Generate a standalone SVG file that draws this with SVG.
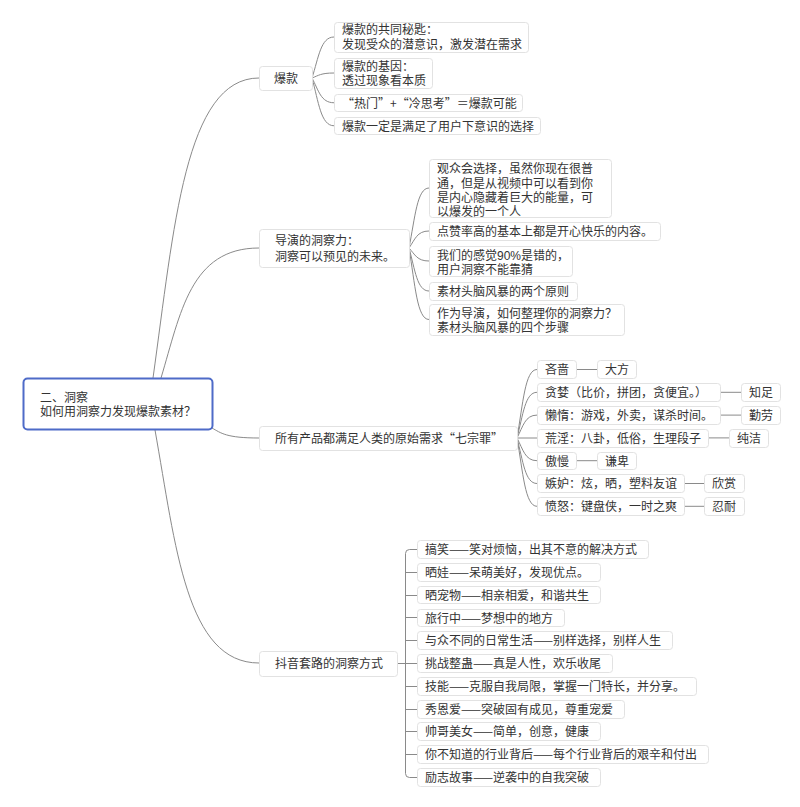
<svg xmlns="http://www.w3.org/2000/svg" width="800" height="807" viewBox="0 0 800 807">
<style>
.n rect{fill:#fff;stroke:#e2e2e2;stroke-width:1}
#root rect{fill:#fff;stroke:#4e6bc8;stroke-width:2}
text{font-family:"Noto Sans CJK SC","Noto Sans",sans-serif;font-size:12px;fill:#333}
text.ml{font-family:"Liberation Sans","Noto Sans CJK SC",sans-serif}
.c path{fill:none;stroke:#8a8a8a;stroke-width:1}
</style>
<rect width="800" height="807" fill="#fff"/>
<g class="c" id="connectors">
<path d="M153 378 C174 228 185 78 259 78"/>
<path d="M161 378 C180.6 313 190.4 248 259 248"/>
<path d="M212 428 C221 433 226 438 259 438"/>
<path d="M155 430 C175.8 546.5 186.2 663 259 663"/>
<path d="M312 78 C318.6 57.5 320.8 37 334 37"/>
<path d="M312 78 C318.6 75.5 320.8 73 334 73"/>
<path d="M312 78 C318.6 90.25 320.8 102.75 334 102.75"/>
<path d="M312 78 C318.6 101.75 320.8 125.75 334 125.75"/>
<path d="M409 248 C415 218 417 188 429 188"/>
<path d="M409 248 C415 239.5 417 231 429 231"/>
<path d="M409 248 C415 254.5 417 261 429 261"/>
<path d="M409 248 C415 269.5 417 291 429 291"/>
<path d="M409 248 C415 283.75 417 319.5 429 319.5"/>
<path d="M517 438 C523 403.75 525 369.5 537 369.5"/>
<path d="M517 438 C523 415.15 525 392.3 537 392.3"/>
<path d="M517 438 C523 426.55 525 415.1 537 415.1"/>
<path d="M517 438 H537"/>
<path d="M517 438 C523 449.35 525 460.7 537 460.7"/>
<path d="M517 438 C523 460.75 525 483.5 537 483.5"/>
<path d="M517 438 C523 472.15 525 506.3 537 506.3"/>
<path d="M576 369.5 H597"/>
<path d="M720 392.3 H741"/>
<path d="M720 415.1 H741"/>
<path d="M708 437.9 H729"/>
<path d="M576 460.7 H597"/>
<path d="M684 483.5 H704"/>
<path d="M684 506.3 H704"/>
<path d="M397 663.5 H405.5"/>
<path d="M417 549.5 H409.5 Q405.5 549.5 405.5 553.5 V773.5 Q405.5 777.5 409.5 777.5 H417"/>
<path d="M405.5 572.5 H417 M405.5 595.5 H417 M405.5 617.5 H417 M405.5 640.5 H417 M405.5 663.5 H417 M405.5 686.5 H417 M405.5 709.5 H417 M405.5 731.5 H417 M405.5 754.5 H417"/>
</g>
<g id="root"><rect x="23.5" y="378.5" width="189" height="51" rx="4"/><text class="ml" x="40" y="402">二、洞察<tspan x="40" dy="14">如何用洞察力发现爆款素材？</tspan></text></g>
<g class="n" id="n-baokuan"><rect x="259.5" y="66.5" width="53" height="24" rx="3"/><text x="286" y="82.5" text-anchor="middle">爆款</text></g>
<g class="n" id="n-bk1"><rect x="334.5" y="22.5" width="194" height="30" rx="3"/><text class="ml" x="342" y="34">爆款的共同秘匙：<tspan x="342" dy="15">发现受众的潜意识，激发潜在需求</tspan></text></g>
<g class="n" id="n-bk2"><rect x="334.5" y="58.5" width="98" height="30" rx="3"/><text class="ml" x="342" y="70.5">爆款的基因：<tspan x="342" dy="14.5">透过现象看本质</tspan></text></g>
<g class="n" id="n-bk3"><rect x="334.5" y="94.5" width="188" height="17" rx="3"/><text x="342" y="107.5">“热门”+“冷思考”＝爆款可能</text></g>
<g class="n" id="n-bk4"><rect x="334.5" y="117.5" width="206" height="17" rx="3"/><text x="342" y="130.5">爆款一定是满足了用户下意识的选择</text></g>
<g class="n" id="n-daoyan"><rect x="259.5" y="229.5" width="150" height="38" rx="3"/><text class="ml" x="275" y="244.5">导演的洞察力：<tspan x="275" dy="16">洞察可以预见的未来。</tspan></text></g>
<g class="n" id="n-dy1"><rect x="429.5" y="159.5" width="182" height="58" rx="3"/><text class="ml" x="437" y="173">观众会选择，虽然你现在很普<tspan x="437" dy="14.5">通，但是从视频中可以看到你</tspan><tspan x="437" dy="14.5">是内心隐藏着巨大的能量，可</tspan><tspan x="437" dy="13.5">以爆发的一个人</tspan></text></g>
<g class="n" id="n-dy2"><rect x="429.5" y="222.5" width="231" height="18" rx="3"/><text x="437" y="235.5">点赞率高的基本上都是开心快乐的内容。</text></g>
<g class="n" id="n-dy3"><rect x="429.5" y="246.5" width="143" height="30" rx="3"/><text class="ml" x="437" y="259.5">我们的感觉90%是错的，<tspan x="437" dy="14">用户洞察不能靠猜</tspan></text></g>
<g class="n" id="n-dy4"><rect x="429.5" y="282.5" width="148" height="18" rx="3"/><text x="437" y="295.5">素材头脑风暴的两个原则</text></g>
<g class="n" id="n-dy5"><rect x="429.5" y="304.5" width="195" height="31" rx="3"/><text class="ml" x="437" y="317.5">作为导演，如何整理你的洞察力？<tspan x="437" dy="14.5">素材头脑风暴的四个步骤</tspan></text></g>
<g class="n" id="n-qizongzui"><rect x="259.5" y="426.5" width="258" height="24" rx="3"/><text x="275" y="442.5">所有产品都满足人类的原始需求“七宗罪”</text></g>
<g class="n" id="n-s1"><rect x="537.5" y="360.5" width="39" height="18" rx="3"/><text x="545" y="374">吝啬</text></g>
<g class="n" id="n-v1"><rect x="597.5" y="360.5" width="39" height="18" rx="3"/><text x="605" y="374">大方</text></g>
<g class="n" id="n-s2"><rect x="537.5" y="383.5" width="183" height="18" rx="3"/><text x="545" y="397">贪婪（比价，拼团，贪便宜。）</text></g>
<g class="n" id="n-v2"><rect x="741.5" y="383.5" width="39" height="18" rx="3"/><text x="749" y="397">知足</text></g>
<g class="n" id="n-s3"><rect x="537.5" y="406.5" width="183" height="18" rx="3"/><text x="545" y="419.5">懒惰：游戏，外卖，谋杀时间。</text></g>
<g class="n" id="n-v3"><rect x="741.5" y="406.5" width="39" height="18" rx="3"/><text x="749" y="419.5">勤劳</text></g>
<g class="n" id="n-s4"><rect x="537.5" y="429.5" width="171" height="18" rx="3"/><text x="545" y="442.5">荒淫：八卦，低俗，生理段子</text></g>
<g class="n" id="n-v4"><rect x="729.5" y="429.5" width="39" height="18" rx="3"/><text x="737" y="442.5">纯洁</text></g>
<g class="n" id="n-s5"><rect x="537.5" y="452.5" width="39" height="17" rx="3"/><text x="545" y="465.5">傲慢</text></g>
<g class="n" id="n-v5"><rect x="597.5" y="452.5" width="39" height="17" rx="3"/><text x="605" y="465.5">谦卑</text></g>
<g class="n" id="n-s6"><rect x="537.5" y="474.5" width="147" height="18" rx="3"/><text x="545" y="488">嫉妒：炫，晒，塑料友谊</text></g>
<g class="n" id="n-v6"><rect x="704.5" y="474.5" width="40" height="18" rx="3"/><text x="712" y="488">欣赏</text></g>
<g class="n" id="n-s7"><rect x="537.5" y="497.5" width="147" height="18" rx="3"/><text x="545" y="511">愤怒：键盘侠，一时之爽</text></g>
<g class="n" id="n-v7"><rect x="704.5" y="497.5" width="40" height="18" rx="3"/><text x="712" y="511">忍耐</text></g>
<g class="n" id="n-douyin"><rect x="259.5" y="651.5" width="138" height="25" rx="3"/><text x="275" y="668">抖音套路的洞察方式</text></g>
<g class="n" id="n-d1"><rect x="417.5" y="540.5" width="231" height="18" rx="3"/><text x="425" y="554">搞笑——笑对烦恼，出其不意的解决方式</text></g>
<g class="n" id="n-d2"><rect x="417.5" y="563.5" width="183" height="18" rx="3"/><text x="425" y="577">晒娃——呆萌美好，发现优点。</text></g>
<g class="n" id="n-d3"><rect x="417.5" y="586.5" width="183" height="17" rx="3"/><text x="425" y="599.5">晒宠物——相亲相爱，和谐共生</text></g>
<g class="n" id="n-d4"><rect x="417.5" y="609.5" width="147" height="17" rx="3"/><text x="425" y="622.5">旅行中——梦想中的地方</text></g>
<g class="n" id="n-d5"><rect x="417.5" y="631.5" width="255" height="18" rx="3"/><text x="425" y="645">与众不同的日常生活——别样选择，别样人生</text></g>
<g class="n" id="n-d6"><rect x="417.5" y="654.5" width="195" height="18" rx="3"/><text x="425" y="668">挑战整蛊——真是人性，欢乐收尾</text></g>
<g class="n" id="n-d7"><rect x="417.5" y="677.5" width="279" height="18" rx="3"/><text x="425" y="691">技能——克服自我局限，掌握一门特长，并分享。</text></g>
<g class="n" id="n-d8"><rect x="417.5" y="700.5" width="207" height="18" rx="3"/><text x="425" y="714">秀恩爱——突破固有成见，尊重宠爱</text></g>
<g class="n" id="n-d9"><rect x="417.5" y="722.5" width="183" height="18" rx="3"/><text x="425" y="736">帅哥美女——简单，创意，健康</text></g>
<g class="n" id="n-d10"><rect x="417.5" y="745.5" width="291" height="18" rx="3"/><text x="425" y="759">你不知道的行业背后——每个行业背后的艰辛和付出</text></g>
<g class="n" id="n-d11"><rect x="417.5" y="768.5" width="183" height="18" rx="3"/><text x="425" y="782">励志故事——逆袭中的自我突破</text></g>
</svg>
